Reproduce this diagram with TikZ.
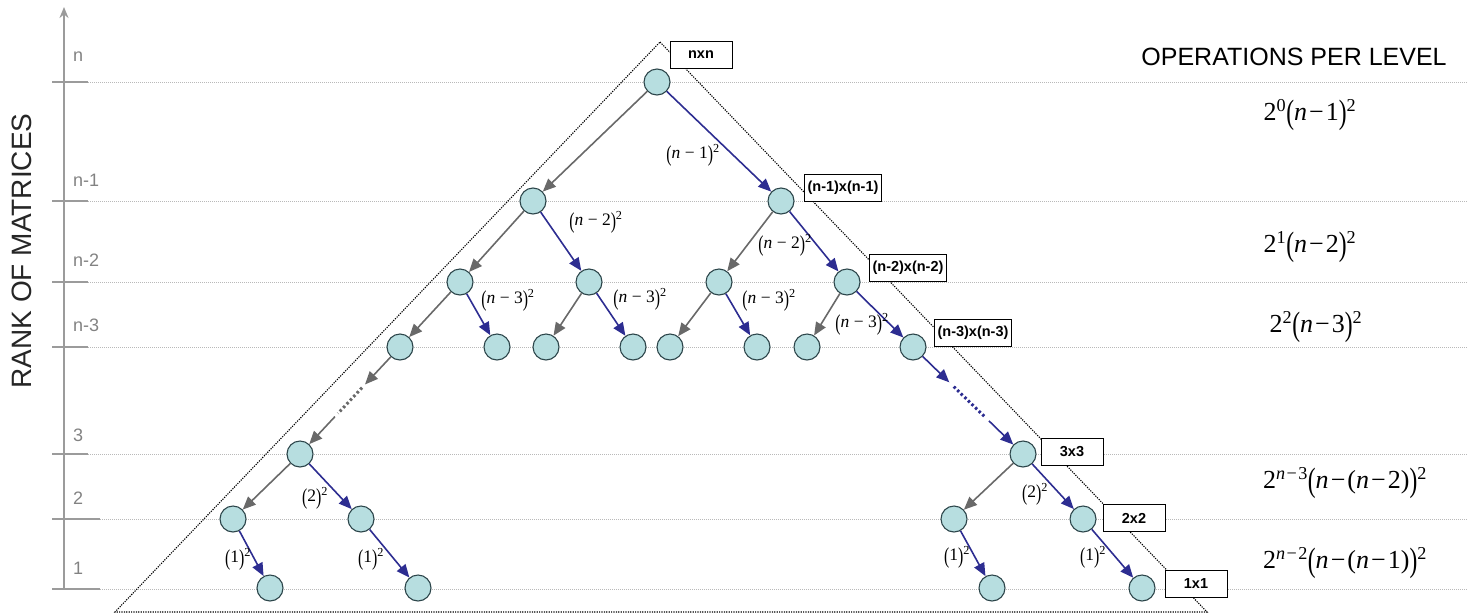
\documentclass[tikz,border=0pt]{standalone}
\usepackage{fontspec}
\usepackage{graphicx}
\setmainfont{Liberation Serif}
\newfontfamily\arialf{Liberation Sans}
\newfontfamily\timesf{Liberation Serif}
\usetikzlibrary{arrows.meta,calc}

\definecolor{nodefill}{RGB}{183,222,224}
\definecolor{nodeline}{RGB}{45,70,75}
\definecolor{edgegray}{RGB}{105,105,105}
\definecolor{edgeblue}{RGB}{45,45,145}
\definecolor{gridgray}{RGB}{185,185,185}
\definecolor{axisgray}{RGB}{155,155,155}
\definecolor{lvlgray}{RGB}{130,130,130}

% tall parentheses in the cost formulas
\newcommand\tp[1]{\raisebox{-0.14em}{\scalebox{0.9}[1.3]{#1}}}
\newcommand\mi{\kern0.08em−\kern0.08em}

\tikzset{
  mnode/.style={circle, draw=nodeline, fill=nodefill, line width=1.1pt,
    minimum size=26pt, inner sep=0pt},
  sizebox/.style={draw=black, fill=white, line width=1pt,
    font=\arialf\bfseries\fontsize{14.5}{16}\selectfont,
    minimum height=27pt, minimum width=62pt, inner sep=3pt},
  grayedge/.style={draw=edgegray, line width=1.6pt,
    -{Triangle[length=13pt,width=11pt]}},
  blueedge/.style={draw=edgeblue, line width=1.6pt,
    -{Triangle[length=13pt,width=11pt]}},
  graydots/.style={draw=edgegray, line width=3pt, dash pattern=on 2.5pt off 2.5pt},
  bluedots/.style={draw=edgeblue, line width=3pt, dash pattern=on 2.5pt off 2.5pt},
  costlbl/.style={font=\timesf\fontsize{17.5}{17.5}\selectfont, inner sep=0pt},
  levelcost/.style={font=\timesf\fontsize{26}{26}\selectfont, inner sep=0pt},
  gridline/.style={draw=gridgray, line width=0.8pt, dash pattern=on 1pt off 1pt},
  tickline/.style={draw=axisgray, line width=1.6pt},
  lvllbl/.style={font=\arialf\fontsize{18}{18}\selectfont, text=lvlgray,
    anchor=west, inner sep=0pt},
  hull/.style={draw=black, line width=1.1pt, dash pattern=on 1.2pt off 1.2pt}
}

\begin{document}
\begin{tikzpicture}[x=1pt,y=-1pt]
\useasboundingbox (0,0) rectangle (1472,614);

% level lines and axis ticks
\foreach \yy/\tk in {82/88,201/88,282/88,347/88,454/88,519/100,589/100}{
  \draw[gridline] (88,\yy) -- (1468,\yy);
  \draw[tickline] (52,\yy) -- (\tk,\yy);
}
\draw[draw=axisgray, line width=1.8pt, -{Stealth[length=11pt,width=9pt]}] (64,589) -- (64,7);

% axis labels
\node[lvllbl] (ln)  at (73,57)  {n};
\node[lvllbl] (ln1) at (73,180) {n-1};
\node[lvllbl] (ln2) at (73,260) {n-2};
\node[lvllbl] (ln3) at (73,325) {n-3};
\node[lvllbl] (l3)  at (73,435) {3};
\node[lvllbl] (l2)  at (73,498) {2};
\node[lvllbl] (l1)  at (73,568) {1};
\node[rotate=90, font=\arialf\fontsize{28}{28}\selectfont, text=black!85, inner sep=0pt]
  (rank) at (22,251) {RANK OF MATRICES};

% dotted outline of the recursion tree
\draw[hull] (660,42) -- (1207,612) -- (115,612) -- cycle;

% tree nodes
\node[mnode] (r)  at (657,82) {};
\node[mnode] (a1) at (533,201) {};
\node[mnode] (a2) at (781,201) {};
\node[mnode] (b1) at (460,282) {};
\node[mnode] (b2) at (589,282) {};
\node[mnode] (b3) at (719,282) {};
\node[mnode] (b4) at (847,282) {};
\node[mnode] (c1) at (400,347) {};
\node[mnode] (c2) at (497,347) {};
\node[mnode] (c3) at (546,347) {};
\node[mnode] (c4) at (633,347) {};
\node[mnode] (c5) at (670,347) {};
\node[mnode] (c6) at (757,347) {};
\node[mnode] (c7) at (807,347) {};
\node[mnode] (c8) at (913,347) {};
\node[mnode] (d1) at (300,454) {};
\node[mnode] (d2) at (1023,454) {};
\node[mnode] (e1) at (233,519) {};
\node[mnode] (e2) at (361,519) {};
\node[mnode] (e3) at (954,519) {};
\node[mnode] (e4) at (1083,519) {};
\node[mnode] (f1) at (270,588) {};
\node[mnode] (f2) at (418,588) {};
\node[mnode] (f3) at (992,588) {};
\node[mnode] (f4) at (1142,588) {};

% matrix size boxes
\node[sizebox] (snn) at (701,55)  {nxn};
\node[sizebox] (sn1) at (843,188) {(n-1)x(n-1)};
\node[sizebox] (sn2) at (908,268) {(n-2)x(n-2)};
\node[sizebox] (sn3) at (973,333) {(n-3)x(n-3)};
\node[sizebox] (s3)  at (1072,452) {3x3};
\node[sizebox] (s2)  at (1134,518) {2x2};
\node[sizebox] (s1)  at (1196,584) {1x1};

% edges
\draw[grayedge] (r) -- (a1);
\draw[blueedge] (r) -- (a2);
\draw[grayedge] (a1) -- (b1);
\draw[blueedge] (a1) -- (b2);
\draw[grayedge] (a2) -- (b3);
\draw[blueedge] (a2) -- (b4);
\draw[grayedge] (b1) -- (c1);
\draw[blueedge] (b1) -- (c2);
\draw[grayedge] (b2) -- (c3);
\draw[blueedge] (b2) -- (c4);
\draw[grayedge] (b3) -- (c5);
\draw[blueedge] (b3) -- (c6);
\draw[grayedge] (b4) -- (c7);
\draw[blueedge] (b4) -- (c8);

% elided levels
\coordinate (lg1) at ($(c1)!0.35!(d1)$);
\coordinate (lg2) at ($(c1)!0.38!(d1)$);
\coordinate (lg3) at ($(c1)!0.62!(d1)$);
\coordinate (lg4) at ($(c1)!0.65!(d1)$);
\draw[grayedge] (c1) -- (lg1);
\draw[graydots] (lg2) -- (lg3);
\draw[grayedge] (lg4) -- (d1);
\coordinate (rb1) at ($(c8)!0.33!(d2)$);
\coordinate (rb2) at ($(c8)!0.37!(d2)$);
\coordinate (rb3) at ($(c8)!0.66!(d2)$);
\coordinate (rb4) at ($(c8)!0.69!(d2)$);
\draw[blueedge] (c8) -- (rb1);
\draw[bluedots] (rb2) -- (rb3);
\draw[blueedge] (rb4) -- (d2);

\draw[grayedge] (d1) -- (e1);
\draw[blueedge] (d1) -- (e2);
\draw[grayedge] (d2) -- (e3);
\draw[blueedge] (d2) -- (e4);
\draw[blueedge] (e1) -- (f1);
\draw[blueedge] (e2) -- (f2);
\draw[blueedge] (e3) -- (f3);
\draw[blueedge] (e4) -- (f4);

% per-edge costs
\node[costlbl] (k0)  at (693,155) {\tp{(}\textit{n} − 1\tp{)}\textsuperscript{2}};
\node[costlbl] (k1a) at (596,222) {\tp{(}\textit{n} − 2\tp{)}\textsuperscript{2}};
\node[costlbl] (k1b) at (785,245) {\tp{(}\textit{n} − 2\tp{)}\textsuperscript{2}};
\node[costlbl] (k2a) at (508,300) {\tp{(}\textit{n} − 3\tp{)}\textsuperscript{2}};
\node[costlbl] (k2b) at (640,299) {\tp{(}\textit{n} − 3\tp{)}\textsuperscript{2}};
\node[costlbl] (k2c) at (769,300) {\tp{(}\textit{n} − 3\tp{)}\textsuperscript{2}};
\node[costlbl] (k2d) at (862,324) {\tp{(}\textit{n} − 3\tp{)}\textsuperscript{2}};
\node[costlbl] (k3a) at (315,498) {\tp{(}2\tp{)}\textsuperscript{2}};
\node[costlbl] (k3b) at (1035,494) {\tp{(}2\tp{)}\textsuperscript{2}};
\node[costlbl] (k4a) at (238,559) {\tp{(}1\tp{)}\textsuperscript{2}};
\node[costlbl] (k4b) at (371,559) {\tp{(}1\tp{)}\textsuperscript{2}};
\node[costlbl] (k4c) at (957,557) {\tp{(}1\tp{)}\textsuperscript{2}};
\node[costlbl] (k4d) at (1093,557) {\tp{(}1\tp{)}\textsuperscript{2}};

% operations per level
\node[font=\arialf\fontsize{25}{25}\selectfont, inner sep=0pt] (ops) at (1294,57) {OPERATIONS PER LEVEL};
\node[levelcost] (o1) at (1310,115) {2\textsuperscript{0}\tp{(}\textit{n}\mi 1\tp{)}\textsuperscript{2}};
\node[levelcost] (o2) at (1310,247) {2\textsuperscript{1}\tp{(}\textit{n}\mi 2\tp{)}\textsuperscript{2}};
\node[levelcost] (o3) at (1316,327) {2\textsuperscript{2}\tp{(}\textit{n}\mi 3\tp{)}\textsuperscript{2}};
\node[levelcost] (o4) at (1345,483) {2\textsuperscript{\textit{n}\mi 3}\tp{(}\textit{n}\mi(\textit{n}\mi 2)\tp{)}\textsuperscript{2}};
\node[levelcost] (o5) at (1345,563) {2\textsuperscript{\textit{n}\mi 2}\tp{(}\textit{n}\mi(\textit{n}\mi 1)\tp{)}\textsuperscript{2}};
\end{tikzpicture}
\end{document}
